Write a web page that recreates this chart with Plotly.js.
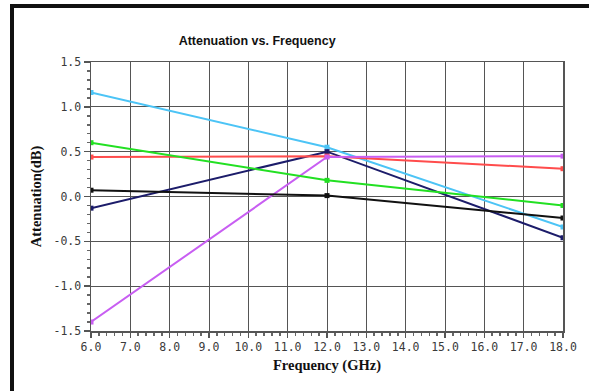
<!DOCTYPE html>
<html>
<head>
<meta charset="utf-8">
<script src="https://cdn.plot.ly/plotly-3.0.1.min.js"></script>
<style>
  html, body { margin: 0; padding: 0; background: #fff; }
  #wrap { position: relative; width: 589px; height: 391px; overflow: hidden; }
  #chart { position: absolute; left: 0; top: 0; width: 589px; height: 391px; }
  #frame { position: absolute; left: 10px; top: 4px; width: 700px; height: 500px;
           border-left: 4px solid #111; border-top: 4px solid #111; pointer-events: none; }
</style>
</head>
<body>
<div id="wrap">
  <div id="chart"></div>
  <div id="frame"></div>
</div>
<script>
const freq = [6, 12, 18];
const cyanVals    = [1.16, 0.55, -0.34];
const navyVals    = [-0.13, 0.50, -0.46];
const redVals     = [0.44, 0.45, 0.31];
const magentaVals = [-1.40, 0.44, 0.45];
const greenVals   = [0.60, 0.18, -0.10];
const blackVals   = [0.07, 0.01, -0.24];

const xTicks = [6, 7, 8, 9, 10, 11, 12, 13, 14, 15, 16, 17, 18];
const xTickLabels = ["6.0","7.0","8.0","9.0","10.0","11.0","12.0","13.0","14.0","15.0","16.0","17.0","18.0"];
const yTicks = [-1.5, -1.0, -0.5, 0.0, 0.5, 1.0, 1.5];
const yTickLabels = ["-1.5","-1.0","-0.5","0.0","0.5","1.0","1.5"];

function series(y, color) {
  return {
    x: freq, y: y, type: 'scatter', mode: 'lines+markers',
    line: { color: color, width: 2 },
    marker: { symbol: 'square', size: 5, color: color },
    showlegend: false, hoverinfo: 'skip'
  };
}

const data = [
  series(cyanVals, '#4cc4f6'),
  series(navyVals, '#1c1c6a'),
  series(redVals, '#ff4c4c'),
  series(magentaVals, '#c85ef2'),
  series(greenVals, '#22e022'),
  series(blackVals, '#111111')
];

const tickFont = { family: 'DejaVu Sans Mono, monospace', size: 11.5, color: '#3a3a3a' };
const axTitleFont = { family: 'Liberation Serif, serif', size: 14.5, color: '#111', weight: 'bold' };

const layout = {
  width: 589, height: 391,
  margin: { l: 91, r: 26, t: 62, b: 60 },
  paper_bgcolor: '#fff', plot_bgcolor: '#fff',
  title: {
    text: '<b>Attenuation vs. Frequency</b>',
    font: { family: 'Liberation Sans Narrow, Arial Narrow, Liberation Sans, sans-serif', size: 12.5, color: '#111' },
    xref: 'paper', x: 0.352, xanchor: 'center',
    yref: 'container', y: 0.895, yanchor: 'middle'
  },
  xaxis: {
    range: [6, 18], tickmode: 'array', tickvals: xTicks, ticktext: xTickLabels,
    showgrid: true, gridcolor: '#555', gridwidth: 1,
    showline: true, linecolor: '#555', linewidth: 1.5, mirror: true,
    zeroline: false,
    ticks: 'outside', ticklen: 5, tickcolor: '#555', tickwidth: 1.5,
    minor: { dtick: 0.2, ticks: 'outside', ticklen: 3, tickcolor: '#666', tickwidth: 1.5, showgrid: false },
    tickfont: tickFont,
    title: { text: 'Frequency (GHz)', font: axTitleFont, standoff: 6 }
  },
  yaxis: {
    range: [-1.5, 1.5], tickmode: 'array', tickvals: yTicks, ticktext: yTickLabels,
    showgrid: true, gridcolor: '#555', gridwidth: 1,
    showline: true, linecolor: '#555', linewidth: 1.5, mirror: true,
    zeroline: false,
    ticks: 'outside', ticklen: 6, tickcolor: '#555', tickwidth: 1.5,
    minor: { dtick: 0.1, ticks: 'outside', ticklen: 3, tickcolor: '#666', tickwidth: 1.5, showgrid: false },
    tickfont: tickFont,
    title: { text: 'Attenuation(dB)', font: axTitleFont, standoff: 8 }
  }
};

Plotly.newPlot('chart', data, layout, { staticPlot: true, displayModeBar: false });
</script>
</body>
</html>
